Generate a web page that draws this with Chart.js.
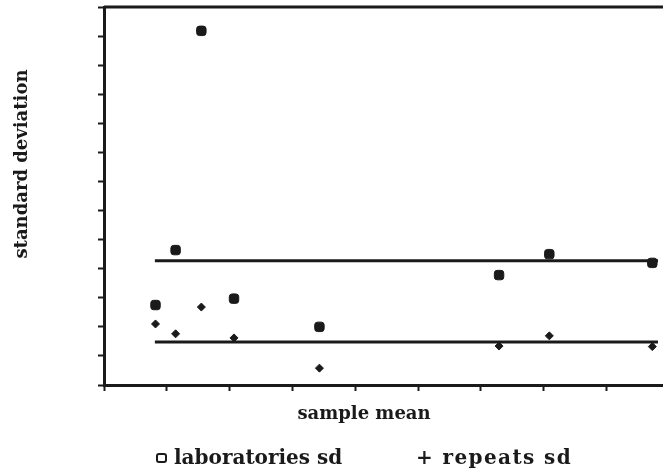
<!DOCTYPE html>
<html>
<head>
<meta charset="utf-8">
<script src="https://cdn.jsdelivr.net/npm/chart.js@4/dist/chart.umd.min.js"></script>
<style>
  html, body { margin: 0; padding: 0; background: #fff; }
  #wrap { width: 663px; height: 471px; }
</style>
</head>
<body>
<div id="wrap"><canvas id="sd-chart"></canvas></div>
<script>
// --- DATA ---
const sampleMeans = [0.82, 1.14, 1.55, 2.07, 3.43, 6.29, 7.09, 8.73];
const laboratoriesSd = [2.75, 4.64, 12.18, 2.97, 2.0, 3.78, 4.5, 4.2];
const repeatsSd = [2.1, 1.76, 2.68, 1.62, 0.58, 1.34, 1.69, 1.32];
const lineRange = [0.81, 8.82];
const laboratoriesLevel = 4.27;
const repeatsLevel = 1.48;

const INK = '#1a1a1a';
const FONT = '"DejaVu Serif", "Liberation Serif", serif';

function toPoints(xs, ys) {
    return xs.map((x, i) => ({ x: x, y: ys[i] }));
}

function levelLine(level) {
    return lineRange.map(x => ({ x: x, y: level }));
}

// --- TEXT & FRAME PLUGIN ---
const labelsPlugin = {
    id: 'labels',
    afterDraw(chart) {
        const ctx = chart.ctx;
        const area = chart.chartArea;
        ctx.save();

        // top border
        ctx.strokeStyle = INK;
        ctx.lineWidth = 3;
        ctx.beginPath();
        ctx.moveTo(area.left, area.top);
        ctx.lineTo(chart.width, area.top);
        ctx.stroke();

        ctx.fillStyle = INK;
        ctx.font = 'bold 18px ' + FONT;
        ctx.textBaseline = 'alphabetic';

        // y title
        ctx.save();
        ctx.translate(27, 164);
        ctx.rotate(-Math.PI / 2);
        ctx.textAlign = 'center';
        ctx.fillText('standard deviation', 0, 0);
        ctx.restore();

        // x title
        ctx.textAlign = 'center';
        ctx.fillText('sample mean', 364, 419);

        // legend
        ctx.font = 'bold 20px ' + FONT;
        ctx.textAlign = 'left';
        ctx.lineWidth = 2;
        ctx.beginPath();
        ctx.roundRect(157, 454, 9, 8, 2);
        ctx.stroke();
        ctx.fillText('laboratories sd', 174, 464);
        ctx.letterSpacing = '1.4px';
        ctx.fillText('+ repeats sd', 416, 464);

        ctx.restore();
    }
};

// --- CHART ---
new Chart(document.getElementById('sd-chart'), {
    type: 'scatter',
    data: {
        datasets: [
            {
                label: 'laboratories sd',
                data: toPoints(sampleMeans, laboratoriesSd),
                pointStyle: 'rectRounded',
                pointRadius: 5.5,
                backgroundColor: INK,
                borderColor: INK,
                borderWidth: 1
            },
            {
                label: 'repeats sd',
                data: toPoints(sampleMeans, repeatsSd),
                pointStyle: 'rectRot',
                pointRadius: 4,
                backgroundColor: INK,
                borderColor: INK,
                borderWidth: 1
            },
            {
                label: 'laboratories level',
                type: 'line',
                data: levelLine(laboratoriesLevel),
                borderColor: INK,
                borderWidth: 3,
                pointRadius: 0,
                fill: false
            },
            {
                label: 'repeats level',
                type: 'line',
                data: levelLine(repeatsLevel),
                borderColor: INK,
                borderWidth: 3,
                pointRadius: 0,
                fill: false
            }
        ]
    },
    options: {
        responsive: true,
        maintainAspectRatio: false,
        animation: false,
        layout: { autoPadding: false, padding: { left: 98, top: 7, right: 0, bottom: 80 } },
        plugins: {
            legend: { display: false },
            tooltip: { enabled: false }
        },
        scales: {
            x: {
                type: 'linear',
                min: 0,
                max: 8.9,
                ticks: { display: false, stepSize: 1, includeBounds: false },
                grid: { drawOnChartArea: false, drawTicks: true, tickLength: 6, tickWidth: 2, tickColor: INK },
                border: { color: INK, width: 3 }
            },
            y: {
                min: 0,
                max: 13,
                ticks: { display: false, stepSize: 1 },
                grid: { drawOnChartArea: false, drawTicks: true, tickLength: 6, tickWidth: 2, tickColor: INK },
                border: { color: INK, width: 3 }
            }
        }
    },
    plugins: [labelsPlugin]
});
</script>
</body>
</html>
